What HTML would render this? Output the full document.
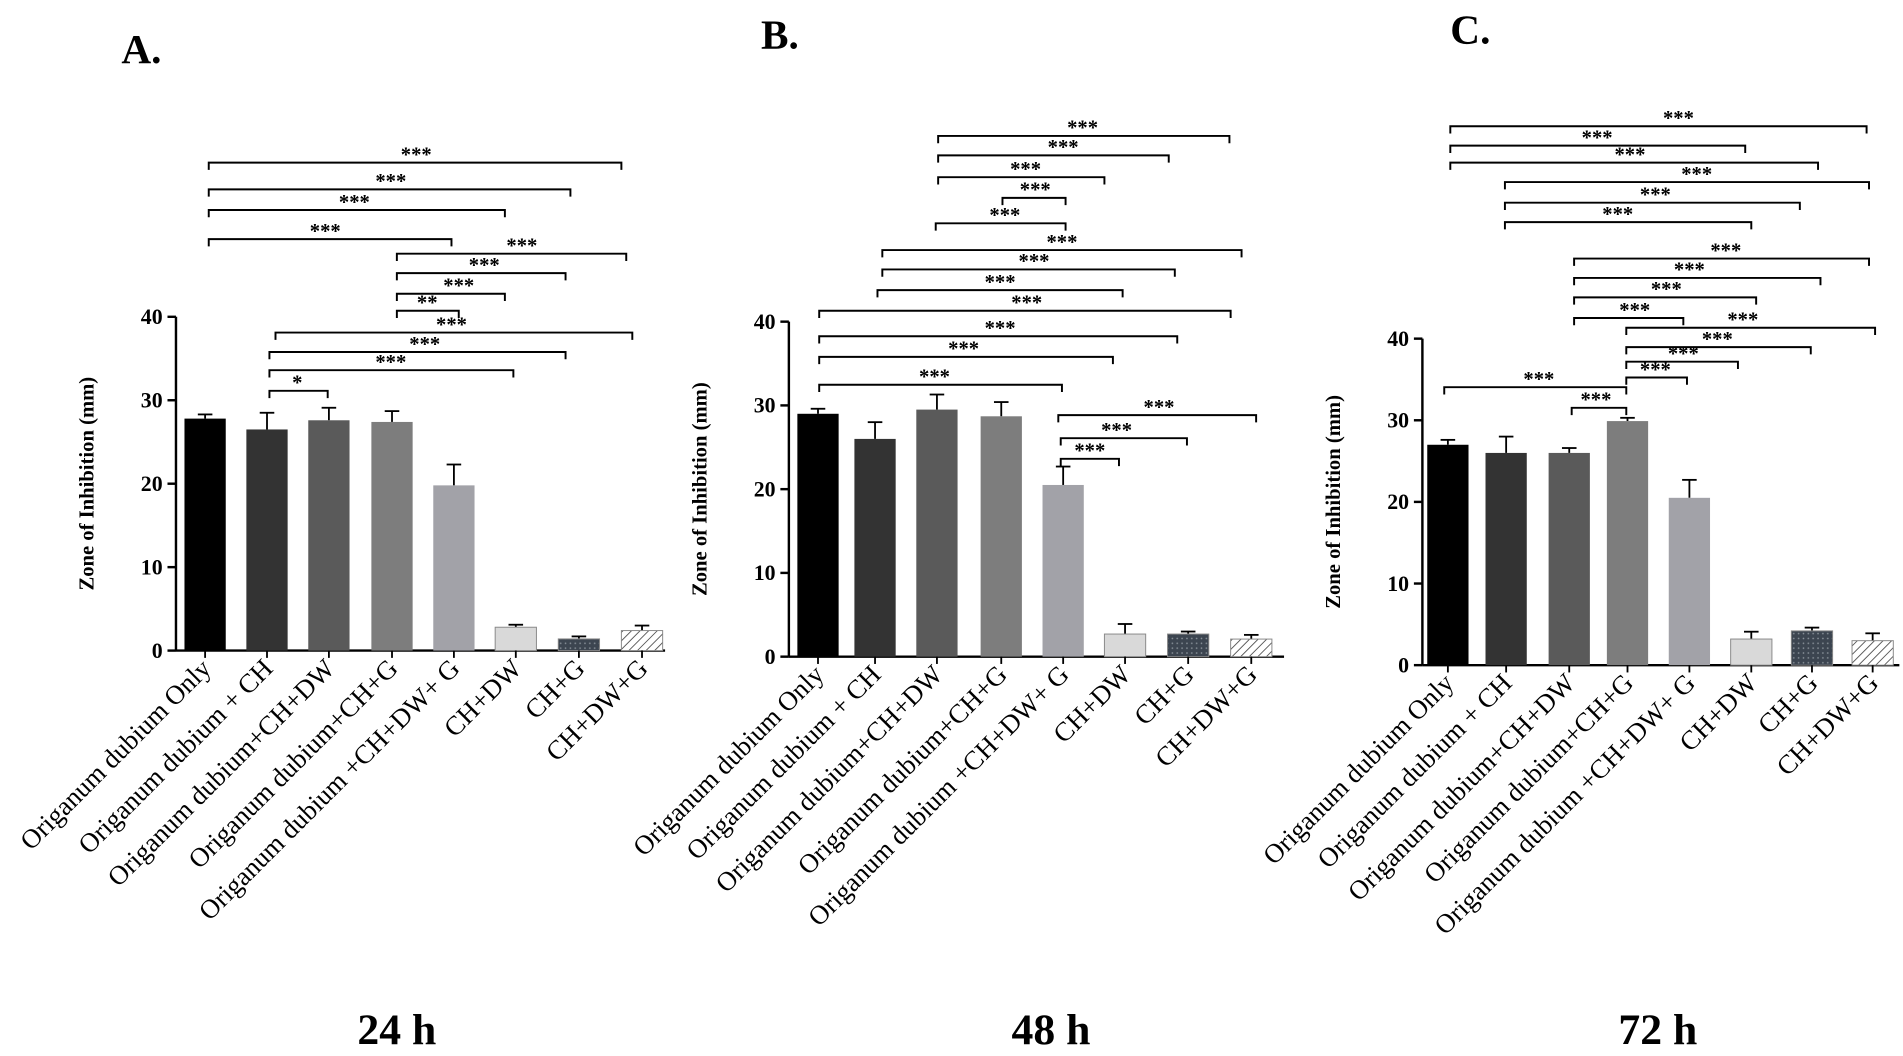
<!DOCTYPE html>
<html><head><meta charset="utf-8"><style>
html,body{margin:0;padding:0;background:#fff;overflow:hidden}
svg{display:block}
text{font-family:"Liberation Serif",serif;fill:#000}
</style></head><body>
<svg id="chart" width="1903" height="1056" viewBox="0 0 1568 870" preserveAspectRatio="none" xmlns="http://www.w3.org/2000/svg">
<defs>
<pattern id="hatch" width="5" height="5" patternUnits="userSpaceOnUse" patternTransform="rotate(45)"><rect width="5" height="5" fill="#fff"/><line x1="0" y1="0" x2="0" y2="5" stroke="#555" stroke-width="1.5"/></pattern>
<pattern id="dots" width="4" height="4" patternUnits="userSpaceOnUse"><rect width="4" height="4" fill="#3c4550"/><circle cx="2" cy="2" r="0.7" fill="#8a929a"/></pattern>
</defs>
</svg>
<script>
const categories = ["Origanum dubium Only","Origanum dubium + CH","Origanum dubium+CH+DW","Origanum dubium+CH+G","Origanum dubium +CH+DW+ G","CH+DW","CH+G","CH+DW+G"];
const yTicks = [0,10,20,30,40];
const valuesA = [27.8,26.5,27.6,27.4,19.8,2.8,1.4,2.4];
const errorsA = [0.5,2.0,1.5,1.3,2.5,0.3,0.3,0.6];
const valuesB = [29.0,26.0,29.5,28.7,20.5,2.7,2.7,2.1];
const errorsB = [0.6,2.0,1.8,1.7,2.2,1.2,0.3,0.5];
const valuesC = [27.0,26.0,26.0,29.9,20.5,3.2,4.2,3.0];
const errorsC = [0.6,2.0,0.6,0.4,2.2,0.9,0.4,0.9];
const fills = ["#000","#333","#5a5a5a","#7d7d7d","#a2a2a8","#d9d9d9","url(#dots)","url(#hatch)"];
const bracketsA = [[172,512,134,"***",343],[172,470,156,"***",322],[172,416,173,"***",292],[172,372,197,"***",268],[327,516,209,"***",430],[327,466,225,"***",399],[327,416,242,"***",378],[327,378,256,"**",352],[227,521,274,"***",372],[222,466,290,"***",350],[222,423,305,"***",322],[222,270,322,"*",245]];
const bracketsB = [[773,1013,112,"***",892],[773,963,128,"***",876],[773,910,146,"***",845],[826,878,163,"***",853],[771,878,184,"***",828],[727,1023,206,"***",875],[727,968,222,"***",852],[723,925,239,"***",824],[675,1014,256,"***",846],[675,970,277,"***",824],[675,917,294,"***",794],[675,875,317,"***",770],[872,1035,342,"***",955],[874,978,361,"***",920],[874,922,378,"***",898]];
const bracketsC = [[1195,1538,104,"***",1383],[1195,1438,120,"***",1316],[1195,1498,134,"***",1343],[1240,1540,150,"***",1398],[1240,1483,167,"***",1364],[1240,1443,183,"***",1333],[1297,1540,213,"***",1422],[1297,1500,229,"***",1392],[1297,1447,245,"***",1373],[1297,1387,262,"***",1347],[1340,1545,270,"***",1436],[1340,1492,286,"***",1415],[1340,1432,298,"***",1387],[1340,1390,311,"***",1364],[1190,1340,319,"***",1268],[1295,1340,336,"***",1315]];
const panels = [
 {id:"a",letter:"A.",lx:100,ly:52,time:"24 h",tx:327,ax:145,y0:536,y40:261,xs:[169,220,271,323,374,425,477,529],end:548,vals:valuesA,errs:errorsA,br:bracketsA},
 {id:"b",letter:"B.",lx:627,ly:40,time:"48 h",tx:866,ax:650,y0:541,y40:265,xs:[674,721,772,825,876,927,979,1031],end:1058,vals:valuesB,errs:errorsB,br:bracketsB},
 {id:"c",letter:"C.",lx:1195,ly:36,time:"72 h",tx:1366,ax:1172,y0:548,y40:279,xs:[1193,1241,1293,1341,1392,1443,1493,1543],end:1565,vals:valuesC,errs:errorsC,br:bracketsC}
];
const svg=document.getElementById('chart');
const NS="http://www.w3.org/2000/svg";
function mk(tag,attrs,parent){const e=document.createElementNS(NS,tag);for(const k in attrs)e.setAttribute(k,attrs[k]);(parent||svg).appendChild(e);return e;}
panels.forEach(p=>{
 const g=mk('g',{});
 
 
 const y=v=>p.y0-(p.y0-p.y40)*v/40;
 const L=mk('text',{x:p.lx,y:p.ly,'font-size':34,'font-weight':'bold'},g);L.textContent=p.letter;
 
 
 const T=mk('text',{x:p.tx,y:860,'font-size':36,'font-weight':'bold','text-anchor':'middle'},g);T.textContent=p.time;
 
 
 const yt=mk('text',{transform:`translate(${p.ax-68},${(p.y0+p.y40)/2}) rotate(-90)`,'font-size':17,'font-weight':'bold','text-anchor':'middle'},g);yt.textContent="Zone of Inhibition (mm)";
 
 
 const ya=mk('line',{x1:p.ax,y1:p.y40,x2:p.ax,y2:p.y0,stroke:'#000','stroke-width':2},g);
 
 
 const xa=mk('line',{x1:p.ax,y1:p.y0,x2:p.end,y2:p.y0,stroke:'#000','stroke-width':2},g);
 
 
 yTicks.forEach(t=>{
  mk('line',{x1:p.ax-7,y1:y(t),x2:p.ax,y2:y(t),stroke:'#000','stroke-width':2},g);
  const tl=mk('text',{x:p.ax-11,y:y(t)+6,'font-size':18,'font-weight':'bold','text-anchor':'end'},g);tl.textContent=t;
  
  
 });
 p.vals.forEach((v,i)=>{
  const cx=p.xs[i],w=34,top=y(v),et=y(v+p.errs[i]);
  mk('line',{x1:cx,y1:top,x2:cx,y2:et,stroke:'#000','stroke-width':1.5},g);
  mk('line',{x1:cx-6,y1:et,x2:cx+6,y2:et,stroke:'#000','stroke-width':1.5},g);
  const r=mk('rect',{x:cx-w/2,y:top,width:w,height:p.y0-top,fill:fills[i],stroke:i>=5?'#888':'none','stroke-width':0.8},g);
  
  
  mk('line',{x1:cx,y1:p.y0,x2:cx,y2:p.y0+6,stroke:'#000','stroke-width':1.5},g);
  const cl=mk('text',{transform:`translate(${cx+6},${p.y0+16}) rotate(-45)`,'font-size':22,'text-anchor':'end'},g);cl.textContent=categories[i];
  
  
 });
 p.br.forEach(b=>{
  const pg=mk('path',{d:`M${b[0]},${b[2]+6}V${b[2]}H${b[1]}V${b[2]+6}`,fill:'none',stroke:'#000','stroke-width':1.6},g);
  
  
  const st=mk('text',{x:b[4],y:b[2]-1,'font-size':17,'font-weight':'bold','text-anchor':'middle'},g);st.textContent=b[3];
  
  
 });
});
</script>
</body></html>
